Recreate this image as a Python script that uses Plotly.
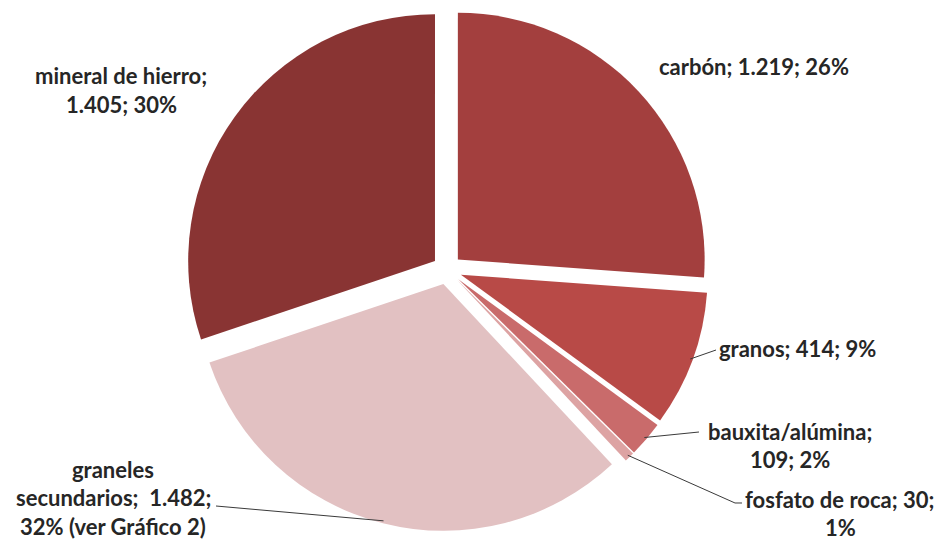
import math
import plotly.graph_objects as go

# ---- data ----
categories = ["carbón", "granos", "bauxita/alúmina", "fosfato de roca",
              "graneles secundarios", "mineral de hierro"]
values = [1219, 414, 109, 30, 1482, 1405]
colors = ["#A33F3E", "#B84A47", "#C96B6B", "#DDA3A3", "#E2C1C2", "#893433"]
label_lines = [
    ["carbón; 1.219; 26%"],
    ["granos; 414; 9%"],
    ["bauxita/alúmina;", "109; 2%"],
    ["fosfato de roca; 30;", "1%"],
    ["graneles", "secundarios;  1.482;", "32% (ver Gráfico 2)"],
    ["mineral de hierro;", "1.405; 30%"],
]

W, H = 944, 542
OFF = 8            # page body margin: screen px = figure px + OFF
PULL = 0.06
CX, CY = 447 - OFF, 269.6 - OFF      # desired pie centre (figure px)
half = min(CY, 265)                  # half-size of the pie box
DOM_X = [(CX - 265) / W, (CX + 265) / W]
DOM_Y = [1 - (CY + half) / H, 1 - (CY - half) / H]

fig = go.Figure(go.Pie(
    labels=categories, values=values, sort=False, direction="clockwise",
    rotation=0, pull=[PULL] * len(values),
    marker=dict(colors=colors, line=dict(width=0)),
    textinfo="none", hoverinfo="label+value+percent", showlegend=False,
    domain=dict(x=DOM_X, y=DOM_Y),
))

# pie geometry in figure pixels (mirrors plotly's layout of the domain)
rx = W * (DOM_X[1] - DOM_X[0]) / 2
ry = H * (DOM_Y[1] - DOM_Y[0]) / 2
r = min(rx, ry) / (1 + PULL)
cx = W * (DOM_X[0] + DOM_X[1]) / 2
cy = H * (1 - (DOM_Y[0] + DOM_Y[1]) / 2)
total = sum(values)

def edge_point(i, frac=1.0):
    start = sum(values[:i]) / total * 360
    mid = math.radians(start + values[i] / total * 180)
    dx, dy = math.sin(mid), -math.cos(mid)
    return (cx + PULL * r * dx + frac * r * dx,
            cy + PULL * r * dy + frac * r * dy)

def P(px, py):
    return px / W, 1 - py / H

FONT = dict(family="Lato, 'Liberation Sans', sans-serif", size=22,
            color="#262626", weight="bold")

# label placement in screen px: x, first-line y, xanchor
label_pos = [
    (754, 66, "center"),
    (717, 348, "left"),
    (790, 431, "center"),
    (840, 499, "center"),
    (113, 469, "center"),
    (121, 76, "center"),
]
LINE_GAP = 28.5
for (x, y, xa), lines in zip(label_pos, label_lines):
    for k, t in enumerate(lines):
        xp, yp = P(x - OFF, y - OFF + k * LINE_GAP)
        fig.add_annotation(x=xp, y=yp, xref="paper", yref="paper", text=t,
                           showarrow=False, xanchor=xa, yanchor="middle",
                           align="center", font=FONT)

# leader lines: (slice index, screen-px waypoints ending at the label)
leaders = [
    (1, [(716, 350)]),
    (2, [(699, 432)]),
    (3, [(735, 503), (742, 503)]),
    (4, [(216, 506)]),
]
for i, pts in leaders:
    sx, sy = edge_point(i, 0.99)
    path_pts = [(sx, sy)] + [(a - OFF, b - OFF) for a, b in pts]
    d = "M " + " L ".join(f"{P(a, b)[0]:.5f},{P(a, b)[1]:.5f}" for a, b in path_pts)
    fig.add_shape(type="path", path=d, xref="paper", yref="paper",
                  line=dict(color="#3a3a3a", width=1))

fig.update_layout(width=W, height=H, margin=dict(l=0, r=0, t=0, b=0),
                  paper_bgcolor="white", plot_bgcolor="white")
fig.write_html("out.html")
